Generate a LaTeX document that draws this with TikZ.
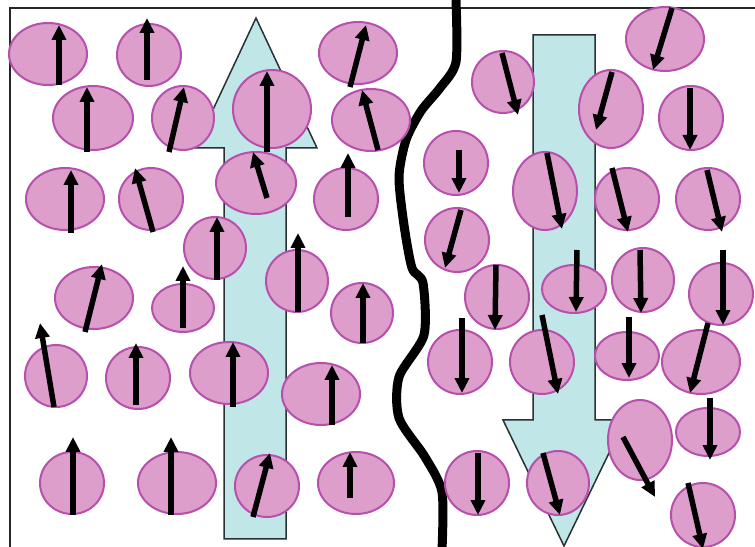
\documentclass[tikz,border=0pt]{standalone}
\usepackage{tikz}
\usetikzlibrary{arrows.meta}
\definecolor{grainfill}{RGB}{221,158,203}
\definecolor{grainline}{RGB}{182,80,172}
\definecolor{fieldfill}{RGB}{192,230,232}
\definecolor{fieldline}{RGB}{40,50,50}
\tikzset{
  frameline/.style={line width=0.045cm, black!85},
  fieldarrow/.style={draw=fieldline, fill=fieldfill, line width=0.03cm, line join=miter},
  grain/.style={draw=grainline, fill=grainfill, line width=0.04cm},
  spin/.style={line width=0.11cm, -{Triangle[length=0.3cm,width=0.28cm]}},
  wall/.style={line width=0.18cm, line join=round}
}
% cx/cy/rx/ry/tail x/tail y/tip x/tip y (pixels)
\def\grainlist{
  48/54/39/31/59/85/59/25, 149/55/32/31/147/80/147/18,
  93/118/40/32/87/152/87/87, 183/118/31/32/169/152/184/87,
  272/109/39/39/267/152/267/71, 358/53/39/31/350/87/366/25,
  371/120/39/31/378/150/362/90, 65/199/39/31/71/233/71/170,
  151/199/32/31/153/232/135/168, 256/183/40/31/267/198/253/152,
  346/199/32/31/348/217/348/153, 215/248/31/31/217/280/217/217,
  297/281/31/31/298/312/298/233, 94/298/39/31/85/332/102/264,
  183/308/31/24/183/328/183/266, 362/313/31/30/363/343/363/283,
  56/376/31/31/54/407/40/323, 138/378/32/31/136/405/136/343,
  229/373/39/31/233/407/233/342, 321/394/39/31/332/425/332/365,
  72/483/32/31/73/515/73/437, 177/483/39/31/171/515/171/437,
  267/486/32/31/253/517/270/453, 356/483/38/31/350/498/350/452,
  503/82/31/31/502/53/518/115, 665/39/39/32/672/8/653/70,
  611/109/32/39/612/72/596/130, 691/118/32/32/690/88/690/150,
  456/163/32/32/459/150/459/193, 457/240/32/32/461/210/445/268,
  545/191/32/39/547/153/562/229, 627/199/32/31/612/168/628/232,
  708/199/32/31/707/170/722/232, 497/297/32/32/496/265/495/330,
  574/289/32/24/577/250/576/312, 643/280/31/32/640/250/641/313,
  721/294/32/31/723/250/723/325, 460/362/32/32/462/318/462/393,
  542/362/32/32/542/315/558/394, 627/356/32/24/629/317/629/378,
  701/362/39/32/708/323/690/393, 640/440/32/40/623/437/655/497,
  708/432/32/24/710/398/710/460, 477/483/32/32/478/453/478/515,
  558/483/31/32/543/453/560/515, 703/515/32/32/688/483/703/549}
\begin{document}
\begin{tikzpicture}[x=0.02cm, y=-0.02cm]
  \useasboundingbox (0,0) rectangle (755,547);
  \clip (0,0) rectangle (755,547);
  \fill[white] (0,0) rectangle (755,547);

  % frame
  \draw[frameline] (10,560) -- (10,8) -- (770,8);

  % field arrows
  \draw[fieldarrow] (224,539) -- (224,148) -- (195,148) -- (256,18) -- (317,148)
    -- (286,148) -- (286,539) -- cycle;
  \draw[fieldarrow] (533,35) -- (595,35) -- (595,420) -- (625,420) -- (564,546)
    -- (503,420) -- (533,420) -- cycle;

  % domain wall
  \draw[wall] plot[smooth, tension=0.45] coordinates {(456,0) (456,62) (440,88)
    (421,111) (406,140) (399,177) (404,225) (412,268) (423,283) (424,335)
    (399,377) (399,418) (425,457) (442,492) (442,550)};

  % grains
  \foreach \cx/\cy/\rx/\ry/\xa/\ya/\xb/\yb in \grainlist
    \draw[grain] (\cx,\cy) ellipse [x radius=\rx*0.02cm, y radius=\ry*0.02cm];

  % spins
  \foreach \cx/\cy/\rx/\ry/\xa/\ya/\xb/\yb in \grainlist
    \draw[spin] (\xa,\ya) -- (\xb,\yb);
\end{tikzpicture}
\end{document}
